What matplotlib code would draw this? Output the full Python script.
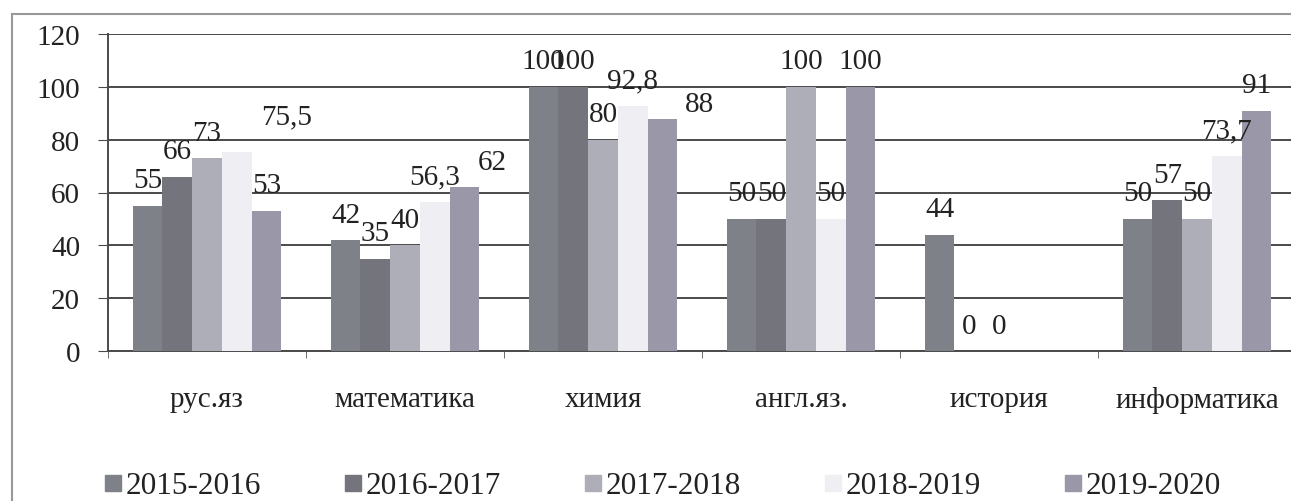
import numpy as np
import matplotlib
matplotlib.use("Agg")
import matplotlib.pyplot as plt
from matplotlib.lines import Line2D

# data
subjects = ["рус.яз", "математика", "химия", "англ.яз.", "история", "информатика"]
years = ["2015-2016", "2016-2017", "2017-2018", "2018-2019", "2019-2020"]
y2015 = [55, 42, 100, 50, 44, 50]
y2016 = [66, 35, 100, 50, 0, 57]
y2017 = [73, 40, 80, 100, 0, 50]
y2018 = [75.5, 56.3, 92.8, 50, np.nan, 73.7]
y2019 = [53, 62, 88, 100, np.nan, 91]
series = [y2015, y2016, y2017, y2018, y2019]

colors = ["#7f8188", "#74747c", "#aeaeb8", "#eeeef3", "#9a98a8"]

# a few labels were dragged by hand in the original (series, category) -> offset in points
label_nudge = {(3, 0): (36, 7), (4, 1): (20, 0), (4, 2): (27, -8)}

plt.rcParams["font.family"] = ["Liberation Serif", "DejaVu Serif"]

fig = plt.figure(figsize=(12.91, 5.02), dpi=100)
ax = fig.add_axes([108 / 1291, 1 - 352 / 502, 1188 / 1291, 317 / 502])

x = np.arange(len(subjects))
w = 0.15
pad = 9
handles = []
for i, (vals, col, lab) in enumerate(zip(series, colors, years)):
    vals = np.array(vals, dtype=float)
    bars = ax.bar(x + (i - 2) * w, np.nan_to_num(vals), width=w, color=col, zorder=3)
    labels = []
    for v in vals:
        if np.isnan(v):
            labels.append("")
        elif float(v).is_integer():
            labels.append(str(int(v)))
        else:
            labels.append(str(v).replace(".", ","))
    anns = ax.bar_label(bars, labels=labels, padding=pad, fontsize=21, color="#222222", zorder=4)
    for j, ann in enumerate(anns):
        if (i, j) in label_nudge:
            dx, dy = label_nudge[(i, j)]
            ann.xyann = (dx, pad + dy)
    handles.append(Line2D([], [], marker="s", linestyle="none", markersize=11,
                          markerfacecolor=col, markeredgecolor=col, label=lab))

ax.set_xlim(-0.5, len(subjects) - 0.5)
ax.set_ylim(0, 120)
ax.set_yticks(np.arange(0, 121, 20))
ax.yaxis.grid(True, color="#4a4a4a", linewidth=1.4, zorder=0)
ax.set_axisbelow(True)

# category ticks sit on the boundaries between groups
ax.set_xticks(x)
ax.set_xticklabels(subjects, fontsize=21, color="#222222")
ax.set_xticks(np.arange(-0.5, len(subjects), 1), minor=True)
ax.tick_params(axis="x", which="major", length=0, pad=25)
ax.tick_params(axis="x", which="minor", length=5, color="#555555")
ax.tick_params(axis="y", length=7, color="#4a4a4a", labelsize=21, pad=13, labelcolor="#222222")

for s in ["top", "right"]:
    ax.spines[s].set_visible(False)
for s in ["left", "bottom"]:
    ax.spines[s].set_color("#4a4a4a")
    ax.spines[s].set_linewidth(1.4)

fig.legend(handles=handles, loc="center left", bbox_to_anchor=(104 / 1291, 1 - 487 / 502),
           ncol=5, frameon=False, fontsize=22.5, handlelength=0.6, handletextpad=0.1,
           columnspacing=2.65, labelcolor="#222222", borderpad=0, borderaxespad=0)

# outer chart border, cropped by the scan
fig.add_artist(Line2D([12 / 1291, 12 / 1291], [0, 1 - 15 / 502], transform=fig.transFigure,
                      color="#999999", linewidth=1.5))
fig.add_artist(Line2D([12 / 1291, 1], [1 - 15 / 502, 1 - 15 / 502], transform=fig.transFigure,
                      color="#999999", linewidth=1.5))

fig.savefig("out.png", dpi=100)
